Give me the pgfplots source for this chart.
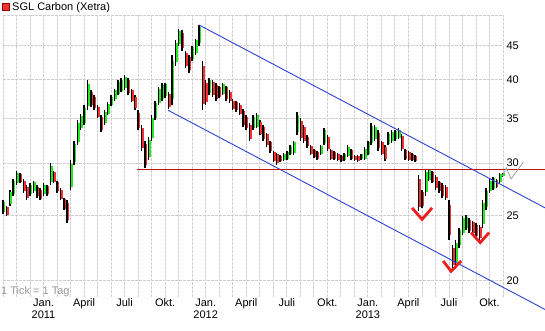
\documentclass[border=0pt]{standalone}
\usepackage{fontspec}
\setmainfont{Liberation Sans}
\usepackage{pgfplots}
\usepackage{pgfplotstable}
\pgfplotsset{compat=1.18}
\definecolor{cgreen}{RGB}{40,230,40}
\definecolor{cred}{RGB}{240,50,50}
\definecolor{cblue}{RGB}{45,65,215}
\definecolor{hline}{RGB}{185,20,20}
\definecolor{vmark}{RGB}{235,30,30}
\definecolor{gridc}{RGB}{208,205,208}
\pgfplotstableread{
x l h d
0.00 25.2 26.4 1
0.25 25.0 25.9 -1
0.50 25.9 27.3 1
0.75 26.8 28.4 1
1.00 27.8 29.2 1
1.25 28.0 29.0 -1
1.50 27.1 28.4 -1
1.75 26.4 27.8 -1
2.00 26.8 28.0 1
2.25 27.1 28.2 1
2.50 26.6 27.8 -1
2.75 26.4 27.5 -1
3.00 26.8 28.0 1
3.25 26.8 27.8 -1
3.50 27.8 30.0 1
3.75 28.0 29.2 -1
4.00 27.1 28.2 -1
4.25 26.4 27.5 -1
4.50 25.5 26.6 -1
4.75 24.4 26.4 -1
5.00 27.3 30.3 1
5.25 29.8 32.4 1
5.50 31.9 34.8 1
5.75 33.6 35.5 1
6.00 34.2 36.6 1
6.25 36.0 39.9 1
6.50 36.4 38.6 -1
6.75 36.0 37.9 -1
7.00 35.0 36.6 -1
7.25 33.4 35.4 -1
7.50 34.2 36.0 1
7.75 35.4 37.0 1
8.00 36.5 37.9 1
8.25 37.2 38.8 1
8.50 37.9 39.9 1
8.75 38.3 40.2 1
9.00 38.6 40.6 1
9.25 37.9 40.2 -1
9.50 37.0 38.8 -1
9.75 36.0 37.9 -1
10.00 33.6 36.0 -1
10.25 31.3 34.2 -1
10.50 29.5 32.4 -1
10.75 30.3 32.8 1
11.00 32.4 35.4 1
11.25 34.8 37.2 1
11.50 36.6 39.0 1
11.75 37.2 39.5 1
12.00 37.6 39.6 1
12.25 36.2 38.3 -1
12.50 36.6 43.5 1
12.75 42.0 45.8 1
13.00 45.0 47.6 1
13.25 44.2 47.4 -1
13.50 41.6 44.2 -1
13.75 41.0 43.5 -1
14.00 42.7 45.0 1
14.25 43.5 46.1 1
14.50 45.0 48.3 1
14.75 36.0 42.7 -1
15.00 36.6 39.9 -1
15.25 37.9 40.2 1
15.50 37.7 39.9 -1
15.75 37.2 39.5 -1
16.00 37.5 39.2 -1
16.25 37.9 39.6 1
16.50 37.2 39.2 -1
16.75 36.9 38.6 -1
17.00 36.0 37.4 -1
17.25 35.8 37.2 -1
17.50 35.4 36.9 -1
17.75 34.0 36.2 -1
18.00 33.6 35.4 -1
18.25 32.4 34.5 -1
18.50 33.6 35.4 1
18.75 33.8 35.6 1
19.00 33.0 34.8 -1
19.25 32.4 34.2 -1
19.50 31.7 33.3 -1
19.75 31.1 32.4 -1
20.00 30.1 31.3 -1
20.25 29.8 31.1 -1
20.50 30.1 30.8 -1
20.75 30.2 31.1 1
21.00 30.3 31.3 1
21.25 30.8 31.9 1
21.50 30.9 32.4 1
21.75 33.0 35.8 1
22.00 32.4 35.0 -1
22.25 32.1 34.2 -1
22.50 31.6 33.0 -1
22.75 30.8 31.9 -1
23.00 30.5 31.5 -1
23.25 30.3 31.3 -1
23.50 30.8 31.9 1
23.75 31.9 33.8 1
24.00 31.3 33.0 -1
24.25 30.3 31.5 -1
24.50 30.3 31.3 -1
24.75 30.2 31.1 -1
25.00 30.1 30.8 -1
25.25 30.2 31.1 1
25.50 30.6 31.9 1
25.75 30.3 31.5 -1
26.00 30.2 30.8 -1
26.25 30.1 30.8 -1
26.50 30.3 31.0 1
26.75 30.3 31.7 1
27.00 30.8 32.4 1
27.25 31.9 34.4 1
27.50 32.4 34.2 1
27.75 31.3 33.6 -1
28.00 30.8 32.4 -1
28.25 30.2 31.9 -1
28.50 31.9 33.4 1
28.75 32.2 33.6 1
29.00 32.4 33.6 1
29.25 32.6 33.8 1
29.50 31.3 33.2 -1
29.75 30.3 31.5 -1
30.00 30.2 31.3 -1
30.25 30.2 31.1 -1
30.50 30.1 30.8 -1
30.75 25.4 28.8 -1
31.00 25.7 27.3 -1
31.25 26.8 29.4 1
31.50 28.2 29.4 1
31.75 28.0 29.2 -1
32.00 27.3 28.8 -1
32.25 27.1 28.2 -1
32.50 26.6 28.0 -1
32.75 26.4 27.8 -1
33.00 23.0 26.4 -1
33.25 20.9 22.6 -1
33.50 21.1 23.0 1
33.75 22.4 24.0 1
34.00 23.4 25.0 1
34.25 23.8 25.1 1
34.50 23.6 24.8 -1
34.75 23.4 24.6 -1
35.00 23.2 24.4 -1
35.25 23.0 24.2 -1
35.50 24.0 26.4 1
35.75 25.5 27.5 1
36.00 27.1 28.4 1
36.25 27.3 28.6 1
36.50 27.5 28.4 -1
36.75 28.0 29.0 1
36.95 28.6 29.0 1
}\candles
\begin{document}
\begin{tikzpicture}
\useasboundingbox (-3pt,-33pt) rectangle (542pt,297pt);
\begin{axis}[
  at={(0,0)}, anchor=south west,
  scale only axis, width=500pt, height=282pt,
  xmin=0, xmax=37, ymode=log, ymin=18.9, ymax=50,
  clip=false,
  axis line style={draw=none},
  major tick length=0pt,
  xtick={0,...,37},
  xticklabels={{},{},{},{Jan.\\2011},{},{},April,{},{},Juli,{},{},Okt.,{},{},{Jan.\\2012},{},{},April,{},{},Juli,{},{},Okt.,{},{},{Jan.\\2013},{},{},April,{},{},Juli,{},{},Okt.,{}},
  ytick={20,25,30,35,40,45,50},
  yticklabels={20,25,30,35,40,45,{}},
  yticklabel pos=right,
  xticklabel style={align=center, inner sep=1.5pt, font=\fontsize{11}{12.5}\selectfont},
  yticklabel style={font=\fontsize{11}{12.5}\selectfont},
  /pgf/number format/assume math mode=true,
  grid=major,
  major grid style={draw=gridc, dash pattern=on 3pt off 1pt, line width=0.8pt},
]
% wicks
\addplot[draw=none, mark=none, forget plot,
  error bars/.cd, y dir=plus, y explicit, error mark=none,
  error bar style={draw=black, line width=1.5pt, solid}]
  table[x=x, y=l, y error plus expr=\thisrow{h}-\thisrow{l}] {\candles};
% green bodies
\addplot[draw=none, mark=none, forget plot,
  restrict expr to domain={\thisrow{d}}{0:2},
  error bars/.cd, y dir=plus, y explicit, error mark=none,
  error bar style={draw=cgreen, line width=1.5pt, solid}]
  table[x expr=\thisrow{x}+0.11, y expr=\thisrow{l}+0.12*(\thisrow{h}-\thisrow{l}), y error plus expr=0.76*(\thisrow{h}-\thisrow{l})] {\candles};
% red bodies
\addplot[draw=none, mark=none, forget plot,
  restrict expr to domain={\thisrow{d}}{-2:0},
  error bars/.cd, y dir=plus, y explicit, error mark=none,
  error bar style={draw=cred, line width=1.5pt, solid}]
  table[x expr=\thisrow{x}+0.11, y expr=\thisrow{l}+0.12*(\thisrow{h}-\thisrow{l}), y error plus expr=0.76*(\thisrow{h}-\thisrow{l})] {\candles};
% trend channel
\addplot[cblue, line width=0.9pt, no marks] coordinates {(14.51,48.3) (40.12,25.7)};
\addplot[cblue, line width=0.9pt, no marks] coordinates {(12.21,36.0) (40.12,18.1)};
% support line
\addplot[hline, line width=0.9pt, no marks] coordinates {(9.92,29.3) (40.12,29.3)};
% V marks
\addplot[vmark, line width=2.8pt, no marks] coordinates {(30.27,25.7) (31.01,24.7) (31.75,25.7)};
\addplot[vmark, line width=2.8pt, no marks] coordinates {(32.57,21.4) (33.16,20.65) (33.90,21.4)};
\addplot[vmark, line width=2.8pt, no marks] coordinates {(34.64,23.6) (35.31,22.8) (35.97,23.6)};
% gray zigzag
\addplot[gray!75, line width=0.8pt, no marks] coordinates {(36.95,28.7) (37.25,29.5) (37.6,28.4) (38.5,30.1)};
\end{axis}
\fill[cred, draw={rgb,255:red,150;green,0;blue,0}, line width=0.6pt] (-1pt,287pt) rectangle (6pt,294pt);
\node[anchor=base west, inner sep=0pt, font=\fontsize{11}{13}\selectfont] at (9pt,286.3pt) {SGL Carbon (Xetra)};
\node[anchor=base west, inner sep=0pt, text=gray!80, font=\fontsize{11}{13}\selectfont] at (-2pt,2.5pt) {1 Tick = 1 Tag};
\end{tikzpicture}
\end{document}
